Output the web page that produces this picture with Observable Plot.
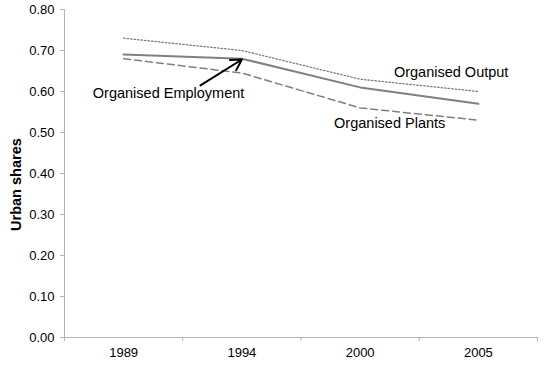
<!DOCTYPE html>
<html><head><meta charset="utf-8">
<script src="https://cdn.jsdelivr.net/npm/d3@7"></script>
<script src="https://cdn.jsdelivr.net/npm/@observablehq/plot@0.6"></script>
<style>body{margin:0;background:#fff;font-family:Arial,"Liberation Sans",sans-serif}</style>
</head><body><div id="chart"></div>
<script>
const years = ["1989", "1994", "2000", "2005"];
const organisedOutput = [0.73, 0.70, 0.63, 0.60];
const organisedEmployment = [0.69, 0.68, 0.61, 0.57];
const organisedPlants = [0.68, 0.645, 0.56, 0.53];
const yTicks = [0, 0.1, 0.2, 0.3, 0.4, 0.5, 0.6, 0.7, 0.8];
const seriesLabels = [
  {name: "Organised Output", x: 2.77, y: 0.646},
  {name: "Organised Plants", x: 2.25, y: 0.522},
  {name: "Organised Employment", x: 0.38, y: 0.596}
];
const arrowData = [{x1: 0.65, y1: 0.615, x2: 1.0, y2: 0.678}];
const yTitle = [{text: "Urban shares", x: -0.5, y: 0.373}];

const idx = years.map((_, i) => i);
const mk = vals => idx.map(i => ({x: i, y: vals[i]}));
const grey = "#808080";

const chart = Plot.plot({
  width: 547, height: 369,
  marginLeft: 64, marginRight: 10, marginTop: 9, marginBottom: 32,
  style: {fontFamily: "Arial, 'Liberation Sans', sans-serif", fontSize: "13px", background: "white", color: "#000"},
  x: {domain: [-0.5, 3.5], axis: null},
  y: {domain: [0, 0.8], axis: null},
  marks: [
    Plot.ruleY([0], {stroke: "#b3b3b3", strokeWidth: 1}),
    Plot.ruleX([-0.5], {stroke: "#b3b3b3", strokeWidth: 1}),
    Plot.axisY({ticks: yTicks, tickFormat: d3.format(".2f"), tickSize: 4, tickPadding: 6, stroke: "#b3b3b3", label: null, fontSize: 13, fill: "#000"}),
    Plot.axisX({ticks: [-0.5, 0.5, 1.5, 2.5, 3.5], tickFormat: () => "", tickSize: 4, stroke: "#b3b3b3", label: null}),
    Plot.axisX({ticks: idx, tickFormat: i => years[i], tickSize: 0, tickPadding: 10, label: null, fontSize: 13, fill: "#000"}),
    Plot.line(mk(organisedOutput), {x: "x", y: "y", stroke: grey, strokeWidth: 1.3, strokeDasharray: "1.5,2"}),
    Plot.line(mk(organisedEmployment), {x: "x", y: "y", stroke: grey, strokeWidth: 2}),
    Plot.line(mk(organisedPlants), {x: "x", y: "y", stroke: grey, strokeWidth: 1.5, strokeDasharray: "7,4"}),
    Plot.text(seriesLabels, {x: "x", y: "y", text: "name", fontSize: 14.5, fill: "#000"}),
    Plot.arrow(arrowData, {x1: "x1", y1: "y1", x2: "x2", y2: "y2", stroke: "#000", strokeWidth: 2, headLength: 9}),
    Plot.text(yTitle, {x: "x", y: "y", text: "text", rotate: -90, dx: -48, fontSize: 14.5, fontWeight: "bold", fill: "#000"})
  ]
});
document.getElementById("chart").appendChild(chart);
</script></body></html>
